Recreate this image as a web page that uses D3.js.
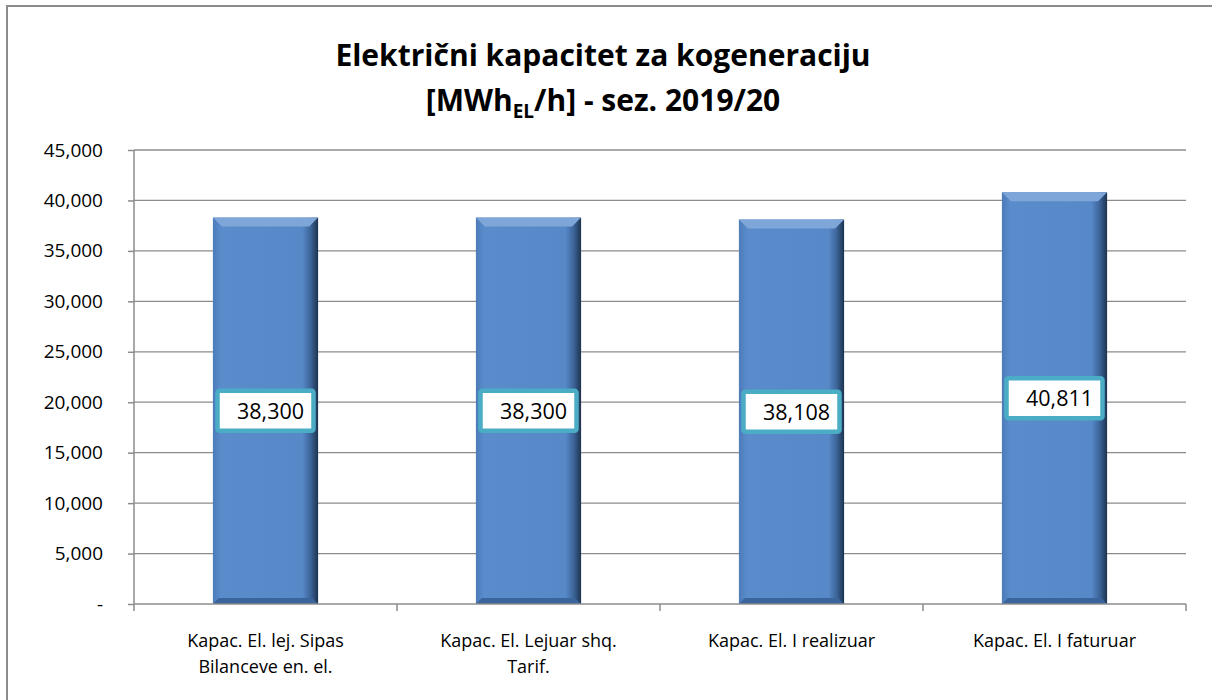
<!DOCTYPE html>
<html>
<head>
<meta charset="utf-8">
<script src="https://d3js.org/d3.v7.min.js"></script>
<style>
body {margin: 0; background: #fff;}
text {font-family: "Open Sans", "Noto Sans", sans-serif;}
</style>
</head>
<body>
<svg id="chart" width="1212" height="700"></svg>
<script>
// data
var categories = [
    ["Kapac. El. lej. Sipas", "Bilanceve en. el."],
    ["Kapac. El. Lejuar shq.", "Tarif."],
    ["Kapac. El. I realizuar"],
    ["Kapac. El. I faturuar"]
];
var values = [38300, 38300, 38108, 40811];
var yTicks = [0, 5000, 10000, 15000, 20000, 25000, 30000, 35000, 40000, 45000];

var svg = d3.select("#chart");
var plotLeft = 134, plotRight = 1186, plotTop = 150, plotBottom = 604;

//outer border
svg.append("rect")
    .attr("x", 7).attr("y", 6).attr("width", 1230).attr("height", 720)
    .attr("fill", "none").attr("stroke", "#8c8c8c").attr("stroke-width", 2);

//scales
var xscale = d3.scaleBand().domain(d3.range(values.length)).range([plotLeft, plotRight]).padding(0);
var yscale = d3.scaleLinear().domain([0, 45000]).range([plotBottom, plotTop]);
var barW = xscale.bandwidth() * 0.4;

//gradients
var defs = svg.append("defs");
var g1 = defs.append("linearGradient").attr("id", "barGrad").attr("x1", 0).attr("x2", 1).attr("y1", 0).attr("y2", 0);
g1.append("stop").attr("offset", "0%").attr("stop-color", "#4c7bb8");
g1.append("stop").attr("offset", "8%").attr("stop-color", "#5a8ccc");
g1.append("stop").attr("offset", "85%").attr("stop-color", "#5789c9");
g1.append("stop").attr("offset", "93%").attr("stop-color", "#3c6498");
g1.append("stop").attr("offset", "100%").attr("stop-color", "#1d3350");

//gridlines
svg.append("g")
    .selectAll("line")
    .data(yTicks.slice(1))
    .enter()
    .append("line")
        .attr("x1", plotLeft).attr("x2", plotRight)
        .attr("y1", function(d) {return yscale(d);})
        .attr("y2", function(d) {return yscale(d);})
        .attr("stroke", "#8c8c8c").attr("stroke-width", 1.3);

//y axis
var yAxis = svg.append("g")
    .attr("transform", "translate(" + plotLeft + ",0)")
    .call(d3.axisLeft(yscale).tickValues(yTicks).tickSize(6).tickPadding(25)
        .tickFormat(function(d) {return d === 0 ? "-" : d3.format(",")(d);}));
yAxis.selectAll("line, path").attr("stroke", "#8c8c8c").attr("stroke-width", 1.5);
yAxis.selectAll("text").style("font-size", "19px").attr("fill", "#000");
yAxis.select(".domain").attr("d", "M0," + plotTop + "V" + plotBottom);

//bars
var bars = svg.append("g").selectAll("g").data(values).enter().append("g");
bars.append("rect")
    .attr("x", function(d, i) {return xscale(i) + (xscale.bandwidth() - barW) / 2;})
    .attr("y", function(d) {return yscale(d);})
    .attr("width", barW)
    .attr("height", function(d) {return plotBottom - yscale(d);})
    .attr("fill", "url(#barGrad)");
//top bevel
bars.append("path")
    .attr("d", function(d, i) {
        var x0 = xscale(i) + (xscale.bandwidth() - barW) / 2, x1 = x0 + barW, y = yscale(d), b = 9;
        return "M" + x0 + "," + y + "L" + x1 + "," + y + "L" + (x1 - b) + "," + (y + b) + "L" + (x0 + b) + "," + (y + b) + "Z";
    })
    .attr("fill", "#7fa6d8");
//bottom bevel
bars.append("path")
    .attr("d", function(d, i) {
        var x0 = xscale(i) + (xscale.bandwidth() - barW) / 2, x1 = x0 + barW, y = plotBottom, b = 6;
        return "M" + x0 + "," + y + "L" + x1 + "," + y + "L" + (x1 - b) + "," + (y - b) + "L" + (x0 + b) + "," + (y - b) + "Z";
    })
    .attr("fill", "#3a659c");

//x axis
var xAxis = svg.append("g").attr("transform", "translate(0," + plotBottom + ")");
xAxis.append("line").attr("x1", plotLeft).attr("x2", plotRight).attr("stroke", "#8c8c8c").attr("stroke-width", 1.5);
xAxis.selectAll(".tk")
    .data(d3.range(values.length + 1))
    .enter()
    .append("line")
        .attr("x1", function(d) {return plotLeft + d * xscale.bandwidth();})
        .attr("x2", function(d) {return plotLeft + d * xscale.bandwidth();})
        .attr("y1", 0).attr("y2", 7)
        .attr("stroke", "#8c8c8c").attr("stroke-width", 1.5);
xAxis.selectAll(".lbl")
    .data(categories)
    .enter()
    .append("text")
        .attr("text-anchor", "middle")
        .style("font-size", "18px")
        .attr("fill", "#000")
        .each(function(d, i) {
            var t = d3.select(this);
            d.forEach(function(line, j) {
                t.append("tspan")
                    .attr("x", xscale(i) + xscale.bandwidth() / 2)
                    .attr("y", 43 + j * 26)
                    .text(line);
            });
        });

//value labels
var lbl = svg.append("g").selectAll("g").data(values).enter().append("g")
    .attr("transform", function(d, i) {
        return "translate(" + (xscale(i) + xscale.bandwidth() / 2) + "," + yscale(d / 2) + ")";
    });
lbl.append("rect")
    .attr("x", -48).attr("y", -20).attr("width", 96).attr("height", 40)
    .attr("rx", 2)
    .attr("fill", "#fff").attr("stroke", "#4bacc6").attr("stroke-width", 4.5);
lbl.append("text")
    .attr("x", 5).attr("y", 8)
    .attr("text-anchor", "middle")
    .style("font-size", "21.5px")
    .attr("fill", "#000")
    .text(function(d) {return d3.format(",")(d);});

//title
var t1 = svg.append("text")
    .attr("text-anchor", "middle")
    .attr("x", 603).attr("y", 66)
    .style("font-size", "30px")
    .style("font-weight", "bold")
    .attr("fill", "#000")
    .text("Električni kapacitet za kogeneraciju");
var t2 = svg.append("text")
    .attr("text-anchor", "middle")
    .attr("x", 603).attr("y", 111)
    .style("font-size", "30px")
    .style("font-weight", "bold")
    .attr("fill", "#000");
t2.append("tspan").text("[MWh");
t2.append("tspan").attr("dy", 7).style("font-size", "19px").text("EL");
t2.append("tspan").attr("dy", -7).text("/h] - sez. 2019/20");
</script>
</body>
</html>
